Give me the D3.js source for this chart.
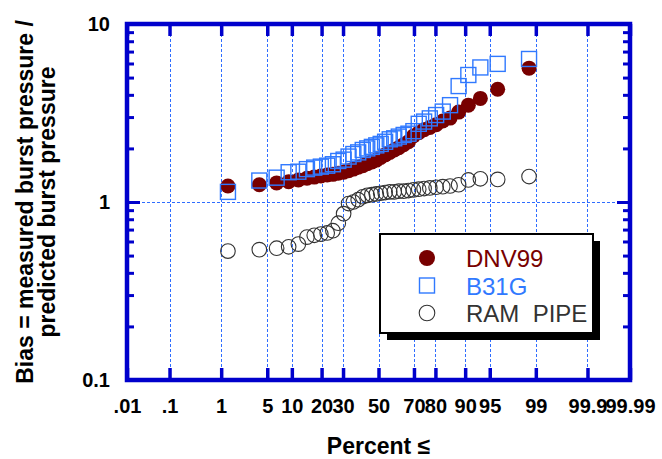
<!DOCTYPE html>
<html>
<head>
<meta charset="utf-8">
<script src="https://cdn.jsdelivr.net/npm/d3@7"></script>
<style>
  html, body { margin: 0; padding: 0; background: #fff; }
  svg { display: block; font-family: "Liberation Sans", Arial, sans-serif; }
</style>
</head>
<body>
<div id="chart"></div>
<script>
const W = 662;
const H = 459;

// plotting positions (percent) shared by the three series
const PERCENT = [1.3, 3.9, 6.6, 9.2, 11.8, 14.5, 17.1, 19.7, 22.4, 25.0, 27.6, 30.3,
  32.9, 35.5, 38.2, 40.8, 43.4, 46.1, 48.7, 51.3, 53.9, 56.6, 59.2, 61.8, 64.5,
  67.1, 69.7, 72.4, 75.0, 77.6, 80.3, 82.9, 85.5, 88.2, 90.8, 93.4, 96.1, 98.7];

const DNV99 = [1.23, 1.25, 1.28, 1.30, 1.33, 1.36, 1.38, 1.40, 1.42, 1.43, 1.45, 1.47,
  1.50, 1.53, 1.57, 1.60, 1.64, 1.68, 1.72, 1.78, 1.84, 1.90, 1.96, 2.02, 2.10,
  2.18, 2.35, 2.45, 2.55, 2.62, 2.72, 2.85, 2.96, 3.20, 3.50, 3.82, 4.30, 5.65];

const B31G = [1.14, 1.32, 1.37, 1.47, 1.48, 1.53, 1.56, 1.58, 1.60, 1.63, 1.70, 1.73,
  1.80, 1.86, 1.90, 1.96, 2.00, 2.04, 2.08, 2.12, 2.18, 2.25, 2.28, 2.33, 2.38,
  2.42, 2.50, 2.75, 2.83, 2.95, 3.08, 3.22, 3.50, 4.48, 5.17, 5.70, 5.97, 6.36];

const RAM_PIPE = [0.53, 0.54, 0.55, 0.56, 0.58, 0.635, 0.65, 0.66, 0.67, 0.69, 0.76, 0.86,
  0.98, 1.00, 1.03, 1.07, 1.09, 1.10, 1.11, 1.12, 1.13, 1.14, 1.14, 1.15, 1.15,
  1.16, 1.17, 1.18, 1.19, 1.20, 1.21, 1.22, 1.23, 1.25, 1.33, 1.35, 1.34, 1.39];

const X_TICKS = [0.01, 0.1, 1, 5, 10, 20, 30, 50, 70, 80, 90, 95, 99, 99.9, 99.99];
const X_TICK_LABELS = [".01", ".1", "1", "5", "10", "20", "30", "50", "70", "80", "90", "95", "99", "99.9", "99.99"];
const Y_MAJOR = [0.1, 1, 10];
const Y_MAJOR_LABELS = ["0.1", "1", "10"];
const Y_MINOR = [0.2, 0.3, 0.4, 0.5, 0.6, 0.7, 0.8, 0.9, 2, 3, 4, 5, 6, 7, 8, 9];

const AXIS_BLUE = "#0000cc";
const GRID_BLUE = "#2f6dff";
const DNV_RED = "#780000";
const B31G_BLUE = "#3079ff";
const RAM_GREY = "#333333";

const margin = { left: 127, right: W - 630, top: 24, bottom: H - 380 };

// inverse standard normal cdf (Acklam), used for the probability axis
function probit(p) {
  const a = [-39.69683028665376, 220.9460984245205, -275.9285104469687,
    138.3577518672690, -30.66479806614716, 2.506628277459239];
  const b = [-54.47609879822406, 161.5858368580409, -155.6989798598866,
    66.80131188771972, -13.28068155288572];
  const c = [-0.007784894002430293, -0.3223964580411365, -2.400758277161838,
    -2.549732539343734, 4.374664141464968, 2.938163982698783];
  const d = [0.007784695709041462, 0.3224671290700398, 2.445134137142996,
    3.754408661907416];
  const plow = 0.02425;
  if (p < plow) {
    const q = Math.sqrt(-2 * Math.log(p));
    return (((((c[0] * q + c[1]) * q + c[2]) * q + c[3]) * q + c[4]) * q + c[5]) /
      ((((d[0] * q + d[1]) * q + d[2]) * q + d[3]) * q + 1);
  }
  if (p <= 1 - plow) {
    const q = p - 0.5;
    const r = q * q;
    return (((((a[0] * r + a[1]) * r + a[2]) * r + a[3]) * r + a[4]) * r + a[5]) * q /
      (((((b[0] * r + b[1]) * r + b[2]) * r + b[3]) * r + b[4]) * r + 1);
  }
  const q = Math.sqrt(-2 * Math.log(1 - p));
  return -(((((c[0] * q + c[1]) * q + c[2]) * q + c[3]) * q + c[4]) * q + c[5]) /
    ((((d[0] * q + d[1]) * q + d[2]) * q + d[3]) * q + 1);
}

const zOf = (pct) => probit(pct / 100);

const x = d3.scaleLinear()
  .domain([zOf(0.01), zOf(99.99)])
  .range([margin.left, W - margin.right]);

const y = d3.scaleLog()
  .domain([0.1, 10])
  .range([H - margin.bottom, margin.top]);

const svg = d3.select("#chart").append("svg")
  .attr("width", W)
  .attr("height", H)
  .attr("viewBox", `0 0 ${W} ${H}`);

const x0 = margin.left, x1 = W - margin.right;
const y0 = margin.top, y1 = H - margin.bottom;

// grid
const grid = svg.append("g")
  .attr("stroke", GRID_BLUE)
  .attr("stroke-width", 1)
  .attr("stroke-dasharray", "3,2");

grid.selectAll("line.v")
  .data(X_TICKS.slice(1, -1))
  .join("line")
  .attr("class", "v")
  .attr("x1", (d) => Math.round(x(zOf(d))) + 0.5)
  .attr("x2", (d) => Math.round(x(zOf(d))) + 0.5)
  .attr("y1", y0)
  .attr("y2", y1);

grid.append("line")
  .attr("x1", x0).attr("x2", x1)
  .attr("y1", Math.round(y(1)) + 0.5)
  .attr("y2", Math.round(y(1)) + 0.5);

// data
const rows = PERCENT.map((p, i) => ({
  p,
  dnv: DNV99[i],
  b31g: B31G[i],
  ram: RAM_PIPE[i],
}));

svg.append("g").selectAll("circle")
  .data(rows)
  .join("circle")
  .attr("cx", (d) => x(zOf(d.p)))
  .attr("cy", (d) => y(d.ram))
  .attr("r", 7.3)
  .attr("fill", "none")
  .attr("stroke", RAM_GREY)
  .attr("stroke-width", 1.1);

svg.append("g").selectAll("circle")
  .data(rows)
  .join("circle")
  .attr("cx", (d) => x(zOf(d.p)))
  .attr("cy", (d) => y(d.dnv))
  .attr("r", 7.5)
  .attr("fill", DNV_RED);

const sq = 15;
svg.append("g").selectAll("rect")
  .data(rows)
  .join("rect")
  .attr("x", (d) => x(zOf(d.p)) - sq / 2)
  .attr("y", (d) => y(d.b31g) - sq / 2)
  .attr("width", sq)
  .attr("height", sq)
  .attr("fill", "none")
  .attr("stroke", B31G_BLUE)
  .attr("stroke-width", 1.4);

// axes
function styleAxis(g, width) {
  g.select(".domain").remove();
  g.selectAll(".tick line")
    .attr("stroke", AXIS_BLUE)
    .attr("stroke-width", width);
  g.selectAll(".tick text")
    .attr("fill", "#000")
    .style("font-size", "20px")
    .style("font-weight", "bold");
}

const xTickZ = X_TICKS.map(zOf);

svg.append("g")
  .attr("transform", `translate(0,${y1})`)
  .call(d3.axisBottom(x)
    .tickValues(xTickZ)
    .tickSize(-12)
    .tickPadding(19)
    .tickFormat((d, i) => X_TICK_LABELS[i]))
  .call((g) => styleAxis(g, 3.5));

svg.append("g")
  .attr("transform", `translate(0,${y0})`)
  .call(d3.axisTop(x)
    .tickValues(xTickZ)
    .tickSize(-12)
    .tickFormat(""))
  .call((g) => styleAxis(g, 3.5));

svg.append("g")
  .attr("transform", `translate(${x0},0)`)
  .call(d3.axisLeft(y).tickValues(Y_MINOR).tickSize(-7).tickFormat(""))
  .call((g) => styleAxis(g, 3));

svg.append("g")
  .attr("transform", `translate(${x0},0)`)
  .call(d3.axisLeft(y)
    .tickValues(Y_MAJOR)
    .tickSize(-13)
    .tickPadding(17)
    .tickFormat((d, i) => Y_MAJOR_LABELS[i]))
  .call((g) => styleAxis(g, 3));

svg.append("g")
  .attr("transform", `translate(${x1},0)`)
  .call(d3.axisRight(y).tickValues(Y_MINOR).tickSize(-7).tickFormat(""))
  .call((g) => styleAxis(g, 3));

svg.append("g")
  .attr("transform", `translate(${x1},0)`)
  .call(d3.axisRight(y).tickValues(Y_MAJOR).tickSize(-13).tickFormat(""))
  .call((g) => styleAxis(g, 3));

svg.append("rect")
  .attr("x", x0)
  .attr("y", y0)
  .attr("width", x1 - x0)
  .attr("height", y1 - y0)
  .attr("fill", "none")
  .attr("stroke", AXIS_BLUE)
  .attr("stroke-width", 4.5);

// axis titles
svg.append("text")
  .attr("x", (x0 + x1) / 2)
  .attr("y", 454)
  .attr("text-anchor", "middle")
  .style("font-size", "23px")
  .style("font-weight", "bold")
  .text("Percent \u2264");

const yTitle = svg.append("text")
  .attr("transform", `translate(33,${(y0 + y1) / 2}) rotate(-90)`)
  .attr("text-anchor", "middle")
  .style("font-size", "23px")
  .style("font-weight", "bold");
yTitle.append("tspan").attr("x", 0).attr("y", 0).text("Bias = measured burst pressure /");
yTitle.append("tspan").attr("x", 0).attr("y", 22).text("predicted burst pressure");

// legend
const legend = svg.append("g").attr("transform", "translate(380,234)");
const lw = 213, lh = 99;
legend.append("rect")
  .attr("x", 7).attr("y", 7)
  .attr("width", lw).attr("height", lh)
  .attr("fill", "#000");
legend.append("rect")
  .attr("width", lw).attr("height", lh)
  .attr("fill", "#fff")
  .attr("stroke", "#000")
  .attr("stroke-width", 2);

const LEGEND_ITEMS = [
  { label: "DNV99", color: DNV_RED, kind: "dot" },
  { label: "B31G", color: B31G_BLUE, kind: "square" },
  { label: "RAM\u00a0\u00a0PIPE", color: RAM_GREY, kind: "ring" },
];

LEGEND_ITEMS.forEach((it, i) => {
  const cy = 24 + i * 27.5;
  if (it.kind === "dot") {
    legend.append("circle").attr("cx", 47).attr("cy", cy).attr("r", 8).attr("fill", it.color);
  } else if (it.kind === "square") {
    legend.append("rect")
      .attr("x", 47 - 7.5).attr("y", cy - 7.5)
      .attr("width", 15).attr("height", 15)
      .attr("fill", "none").attr("stroke", it.color).attr("stroke-width", 1.4);
  } else {
    legend.append("circle").attr("cx", 47).attr("cy", cy).attr("r", 7.8)
      .attr("fill", "none").attr("stroke", it.color).attr("stroke-width", 1.1);
  }
  legend.append("text")
    .attr("x", 86)
    .attr("y", cy + 9)
    .attr("fill", it.color)
    .style("font-size", "24px")
    .text(it.label);
});
</script>
</body>
</html>
